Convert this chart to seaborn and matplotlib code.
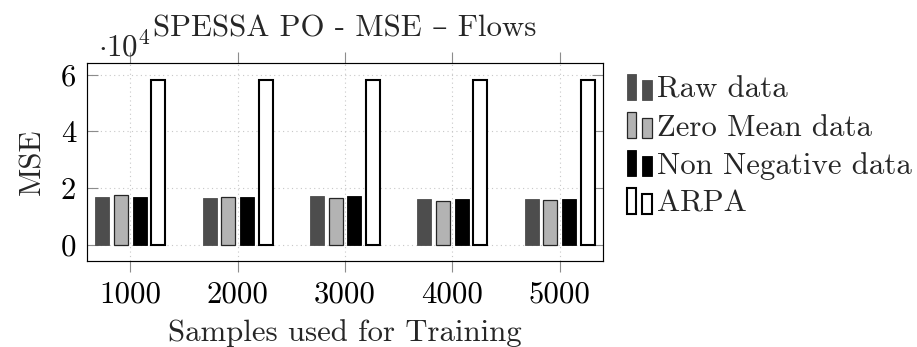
import matplotlib
matplotlib.use("Agg")
import matplotlib.pyplot as plt
from matplotlib.patches import Rectangle
from matplotlib.legend_handler import HandlerBase
from matplotlib.ticker import FuncFormatter, MultipleLocator
import seaborn as sns
import pandas as pd

# ---- data -------------------------------------------------------------
samples = ["1000", "2000", "3000", "4000", "5000"]
series = ["Raw data", "Zero Mean data", "Non Negative data", "ARPA"]
mse_raw = [16800, 16600, 17000, 16000, 16000]
mse_zero_mean = [17400, 16650, 16400, 15550, 15650]
mse_non_negative = [16800, 16650, 17000, 16050, 16050]
mse_arpa = [58200, 58200, 58200, 58200, 58200]

title = "SPESSA PO - MSE \u2013 Flows"
xlabel = "Samples used for Training"
ylabel = "MSE"

# ---- styling ----------------------------------------------------------
sns.set_theme(style="ticks")
plt.rcParams["font.family"] = ["cmr10", "DejaVu Serif"]
plt.rcParams["mathtext.fontset"] = "cm"
plt.rcParams["axes.formatter.use_mathtext"] = True
FS = 22.2

face = {"Raw data": "#4d4d4d", "Zero Mean data": "#b3b3b3",
        "Non Negative data": "#000000", "ARPA": "#ffffff"}
edge = {"Raw data": "#4d4d4d", "Zero Mean data": "#262626",
        "Non Negative data": "#000000", "ARPA": "#000000"}
lw = {"Raw data": 0.6, "Zero Mean data": 0.9,
      "Non Negative data": 0.6, "ARPA": 1.5}

rows = []
for name, vals in zip(series, [mse_raw, mse_zero_mean, mse_non_negative, mse_arpa]):
    for s, v in zip(samples, vals):
        rows.append({"samples": s, "series": name, "mse": v})
df = pd.DataFrame(rows)

fig = plt.figure(figsize=(9.17, 3.47), dpi=100)
ax = fig.add_axes([87.3 / 917, 86 / 347, 515.4 / 917, 197.7 / 347])

sns.barplot(data=df, x="samples", y="mse", hue="series", order=samples,
            hue_order=series, palette=face, width=0.696, gap=0.25,
            errorbar=None, legend=False, ax=ax, saturation=1)

for name, cont in zip(series, ax.containers):
    for bar in cont:
        bar.set_edgecolor(edge[name])
        bar.set_linewidth(lw[name])
        bar.set_zorder(3)

ymax = max(mse_arpa)
ax.set_xlim(-0.4007, 4.4007)
ax.set_ylim(-0.1 * ymax, 1.1 * ymax)
ax.yaxis.set_major_locator(MultipleLocator(20000))
ax.yaxis.set_major_formatter(FuncFormatter(lambda v, p: f"{v / 1e4:g}"))

ax.grid(True, which="major", linestyle=(0, (1, 3)), color="#c8c8c8",
        linewidth=0.8, zorder=0)
ax.set_axisbelow(True)

for sp in ax.spines.values():
    sp.set_visible(True)
    sp.set_color("black")
    sp.set_linewidth(0.85)

ax.tick_params(axis="y", which="major", direction="in", length=7.9,
               width=0.8, color="#8c8c8c", left=True, right=True,
               labelsize=FS, pad=8.1, labelcolor="black")
ax.tick_params(axis="x", which="major", direction="out", length=7.9,
               width=0.8, color="#8c8c8c", top=True, bottom=True,
               labeltop=False, labelsize=FS, pad=6.3, labelcolor="black")

ax.set_xlabel(xlabel, fontsize=FS)
ax.xaxis.label.set_va("baseline")
ax.xaxis.set_label_coords(0.5, (261 - 341) / 197.7)
ax.set_ylabel(ylabel, fontsize=FS)
ax.yaxis.label.set_va("baseline")
ax.yaxis.set_label_coords((40 - 87.3) / 515.4, 0.5)

ax.set_title(title, fontsize=FS, y=1.0, pad=19.2)
ax.text((98 - 87.3) / 515.4, (261 - 57.3) / 197.7, r"$\cdot10^{4}$",
        transform=ax.transAxes, fontsize=FS, ha="left", va="baseline")


class TwoBarHandler(HandlerBase):
    """Legend key drawn as a tall and a short bar side by side."""

    def create_artists(self, legend, orig_handle, xdescent, ydescent,
                       width, height, fontsize, trans):
        x0, y0 = -xdescent, -ydescent
        kw = dict(facecolor=orig_handle.get_facecolor(),
                  edgecolor=orig_handle.get_edgecolor(),
                  linewidth=orig_handle.get_linewidth(), transform=trans)
        r1 = Rectangle((x0, y0), 0.345 * width, height, **kw)
        r2 = Rectangle((x0 + 0.61 * width, y0), 0.39 * width, 0.76 * height, **kw)
        return [r1, r2]


handles = [Rectangle((0, 0), 1, 1, facecolor=face[n], edgecolor=edge[n],
                     linewidth=lw[n]) for n in series]
fig.legend(handles, series, handler_map={Rectangle: TwoBarHandler()},
           loc="upper left", bbox_to_anchor=(627.3 / 917, 1 - 74 / 347),
           frameon=False, fontsize=FS, handlelength=0.8, handleheight=0.9,
           handletextpad=0.17, labelspacing=0.28, borderpad=0,
           borderaxespad=0)

fig.savefig("out.png", dpi=100)
